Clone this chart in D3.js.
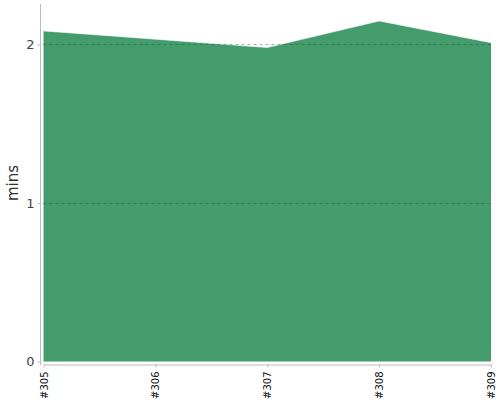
<!DOCTYPE html>
<html>
<head>
<meta charset="utf-8">
<script src="https://cdn.jsdelivr.net/npm/d3@7"></script>
<style>
html,body{margin:0;padding:0;background:#fff;}
svg{display:block;font-family:"DejaVu Sans",sans-serif;}
</style>
</head>
<body>
<svg id="c" width="500" height="400"></svg>
<script>
const categories = ["#305", "#306", "#307", "#308", "#309"];
const values = [2.085, 2.033, 1.980, 2.148, 2.011];
const yTicks = [0, 1, 2];

const svg = d3.select("#c");
const x = d3.scalePoint().domain(categories).range([43.5, 491]);
const y = d3.scaleLinear().domain([0, 2.255]).range([361.5, 4]);

const data = categories.map((c, i) => ({c, v: values[i]}));

// area
svg.append("path")
  .datum(data)
  .attr("fill", "#449c6d")
  .attr("d", d3.area().x(d => x(d.c)).y0(y(0)).y1(d => y(d.v)));

svg.append("path")
  .datum(data)
  .attr("fill", "none")
  .attr("stroke", "#fff")
  .attr("stroke-width", 0.8)
  .attr("stroke-opacity", 0.7)
  .attr("d", d3.line().x(d => x(d.c)).y(d => y(d.v)));

// gridlines
svg.append("g").selectAll("line")
  .data(yTicks.filter(t => t > 0))
  .join("line")
  .attr("x1", 43.5).attr("x2", 491)
  .attr("y1", d => Math.round(y(d)) + 0.5).attr("y2", d => Math.round(y(d)) + 0.5)
  .attr("stroke", "#1c4a30")
  .attr("stroke-opacity", 0.4)
  .attr("stroke-dasharray", "3,3");

// y axis
const ya = svg.append("g")
  .attr("transform", "translate(40.5,0)")
  .call(d3.axisLeft(y).tickValues(yTicks).tickFormat(d3.format("d")).tickSize(3).tickSizeOuter(0));
ya.select(".domain").attr("stroke", "#bbb");
ya.selectAll(".tick line").attr("stroke", "#bbb");
ya.selectAll(".tick text").attr("fill", "#444").attr("font-size", 13).attr("x", -6)
  .attr("font-family", "DejaVu Sans, sans-serif");
ya.select(".domain").attr("d", "M-0,4V365");

// x axis
const xa = svg.append("g")
  .attr("transform", "translate(0,364.5)")
  .call(d3.axisBottom(x).tickSize(3).tickSizeOuter(0));
xa.select(".domain").attr("stroke", "#bbb");
xa.selectAll(".tick line").attr("stroke", "#bbb");
xa.selectAll(".tick text")
  .attr("fill", "#111")
  .attr("font-size", 10)
  .attr("font-family", "DejaVu Sans, sans-serif")
  .attr("transform", "rotate(-90)")
  .attr("text-anchor", "end")
  .attr("x", -7)
  .attr("y", 0)
  .attr("dy", "0.35em");

// y label
svg.append("text")
  .attr("transform", "translate(18,183) rotate(-90)")
  .attr("text-anchor", "middle")
  .attr("font-size", 15)
  .attr("fill", "#333")
  .attr("font-family", "DejaVu Sans, sans-serif")
  .text("mins");
</script>
</body>
</html>
